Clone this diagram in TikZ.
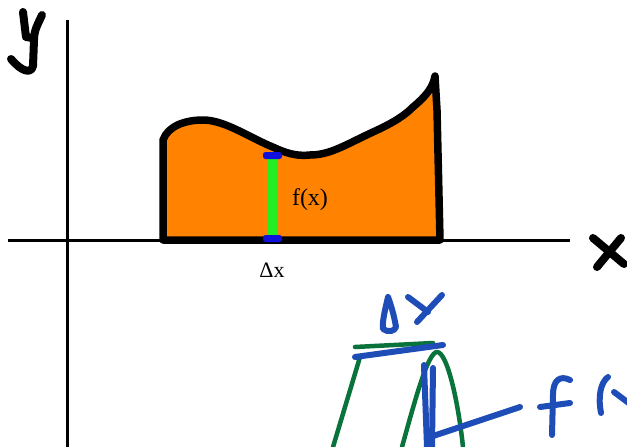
\documentclass[tikz,border=0pt]{standalone}
\usepackage{fontspec}
\setmainfont{Liberation Serif}
\begin{document}
\begin{tikzpicture}[x=1pt,y=-1pt,
  axis/.style={line width=3pt},
  pen/.style={line width=8pt,line cap=round,line join=round},
  bluepen/.style={line width=6pt,line cap=round,line join=round,draw=penblue},
  greenpen/.style={line width=4.5pt,line cap=round,line join=round,draw=pengreen},
  lbl/.style={font=\fontsize{24}{28}\selectfont,inner sep=0pt}]
\definecolor{areaorange}{HTML}{FF8300}
\definecolor{bargreen}{HTML}{22EE22}
\definecolor{capblue}{HTML}{1010DD}
\definecolor{penblue}{HTML}{1E4DB7}
\definecolor{pengreen}{HTML}{08733A}
\useasboundingbox (0,0) rectangle (627,447);
\fill[white] (0,0) rectangle (627,447);
% area
\filldraw[fill=areaorange,line width=7.5pt,line join=round,line cap=round]
  (163,240) -- (163,140) .. controls (168,126) and (185,120) .. (203,120)
  .. controls (225,120) and (250,138) .. (275,148)
  .. controls (290,155) and (300,156) .. (310,155)
  .. controls (330,155) and (345,145) .. (373,132)
  .. controls (395,122) and (405,115) .. (413,107)
  .. controls (425,97) and (433,88) .. (435,76)
  -- (437,110) -- (440,240) -- cycle;
% axes
\draw[axis] (67,20) -- (67,447);
\draw[axis] (8,240) -- (570,240);
% hand-drawn y
\draw[pen] (23,12) -- (26,37) -- (33,38);
\draw[pen] (42,15) .. controls (38,24) and (34,30) .. (34,40) -- (33,66)
  .. controls (31,74) and (22,72) .. (11,59);
% hand-drawn x
\draw[pen] (593,238) -- (624,264);
\draw[pen] (621,238) -- (597,267);
% green bar with blue caps
\fill[bargreen] (267,155) rectangle (278,238);
\fill[capblue,rounded corners=2.5pt] (263,152) rectangle (282,159);
\fill[capblue,rounded corners=2.5pt] (263,235) rectangle (282,242);
\node[lbl] (fx) at (310,200) {f(x)};
\node[lbl,font=\fontsize{22}{26}\selectfont] (dx) at (272,270) {Δx};
% sketch bottom right: green
\draw[greenpen] (355,347) -- (433,343);
\draw[greenpen] (360,357) -- (333,447);
\draw[greenpen] (402,447) .. controls (415,400) and (428,352) .. (437,352)
  .. controls (447,352) and (458,400) .. (463,447);
% blue handwriting
\draw[bluepen] (388,297) .. controls (385,310) and (382,322) .. (383,329)
  .. controls (388,333) and (395,331) .. (396,327) .. controls (394,315) and (391,305) .. (388,297);
\draw[bluepen] (442,295) -- (417,322);
\draw[bluepen] (408,297) -- (428,312);
\draw[bluepen] (355,357) -- (443,345);
\draw[bluepen] (424,365) -- (427,447);
\draw[bluepen] (433,368) -- (432,447);
\draw[bluepen] (430,437) -- (520,407);
\draw[bluepen] (570,380) .. controls (560,375) and (553,380) .. (553,395) -- (552,435);
\draw[bluepen] (540,407) -- (570,403);
\draw[bluepen] (608,377) .. controls (600,383) and (598,398) .. (601,413);
\draw[bluepen] (614,392) -- (630,404);
\end{tikzpicture}
\end{document}
